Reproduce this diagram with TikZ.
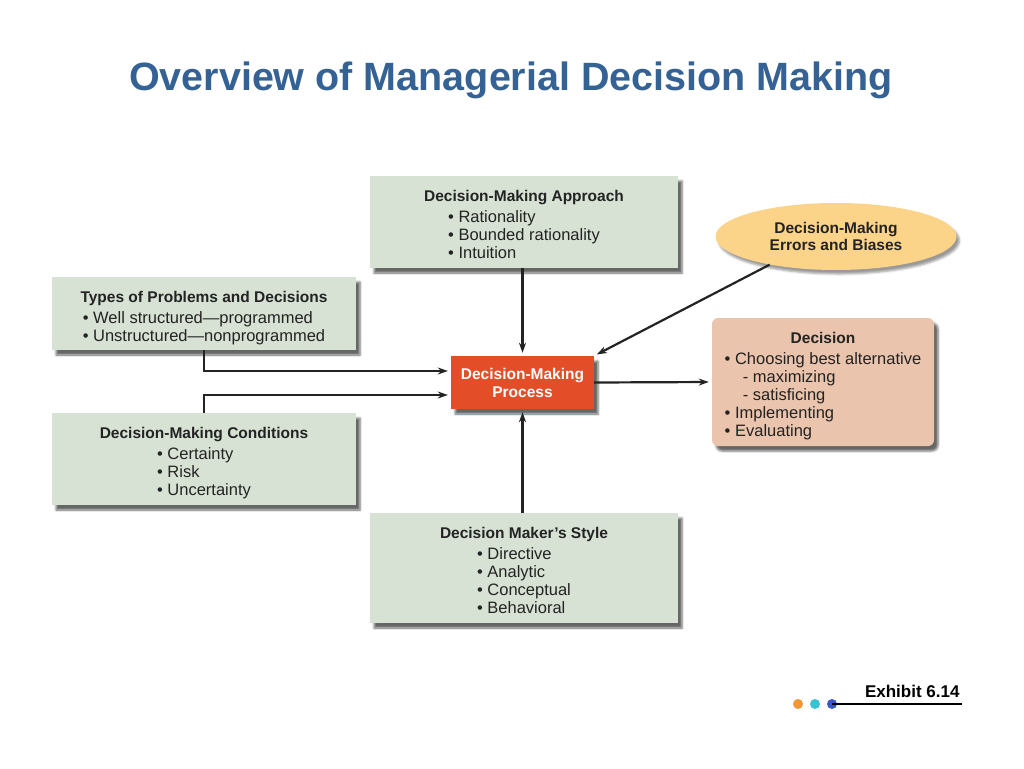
\documentclass[tikz,border=0pt]{standalone}
\usepackage{fontspec}
\setmainfont{Liberation Sans}
\usetikzlibrary{shapes.geometric,shadows.blur,arrows.meta}
\definecolor{titleblue}{RGB}{52,98,148}
\definecolor{boxgreen}{RGB}{215,226,212}
\definecolor{procred}{RGB}{227,78,40}
\definecolor{errgold}{RGB}{251,211,137}
\definecolor{decpeach}{RGB}{234,196,172}
\definecolor{inktext}{RGB}{35,35,35}
\definecolor{dotorange}{RGB}{245,150,55}
\definecolor{dotcyan}{RGB}{55,195,210}
\definecolor{dotblue}{RGB}{55,90,200}
\newcommand{\bul}{\textbullet\ }
\newcommand{\subdash}{\hspace{1.1em}- }
\newcommand{\boxhead}[1]{{\fontsize{15.5}{18}\selectfont\bfseries\rule{0pt}{22pt}#1}}
\begin{document}
\begin{tikzpicture}[x=1pt, y=-1pt,
    every node/.style = {font=\fontsize{16.5}{18}\selectfont, text=inktext},
    infobox/.style = {rectangle, fill=boxgreen, inner sep=0pt, align=center,
      blur shadow={shadow xshift=4pt, shadow yshift=-5pt, shadow opacity=60}},
    procbox/.style = {rectangle, fill=procred, inner sep=0pt, align=center,
      text=white, font=\fontsize{15.5}{18}\selectfont\bfseries,
      blur shadow={shadow xshift=4pt, shadow yshift=-5pt, shadow opacity=60}},
    errell/.style = {ellipse, fill=errgold, inner sep=0pt, align=center,
      font=\fontsize{15.5}{17}\selectfont\bfseries,
      blur shadow={shadow xshift=3pt, shadow yshift=-4pt, shadow opacity=40}},
    decbox/.style = {rectangle, rounded corners=6pt, fill=decpeach, inner sep=0pt, align=center,
      blur shadow={shadow xshift=4pt, shadow yshift=-5pt, shadow opacity=60}},
    dot/.style = {circle, inner sep=0pt, minimum size=10pt}]
  \useasboundingbox (0, 0) rectangle (1024, 768);
  %title
  \node[font=\fontsize{39.5}{44}\selectfont\bfseries, text=titleblue] (title) at (511, 80)
    {Overview of Managerial Decision Making};
  %nodes
  \node[infobox, minimum width=308pt, minimum height=92pt] (appr) at (524, 222)
    {\boxhead{Decision-Making Approach}\\[3pt]
     \begin{tabular}[t]{@{}l@{}}\bul Rationality\\ \bul Bounded rationality\\ \bul Intuition\end{tabular}};
  \node[infobox, minimum width=304pt, minimum height=73pt] (types) at (204, 313.5)
    {\boxhead{Types of Problems and Decisions}\\[3pt]
     \begin{tabular}[t]{@{}l@{}}\bul Well structured—programmed\\ \bul Unstructured—nonprogrammed\end{tabular}};
  \node[infobox, minimum width=304pt, minimum height=92pt] (cond) at (204, 459)
    {\boxhead{Decision-Making Conditions}\\[3pt]
     \begin{tabular}[t]{@{}l@{}}\bul Certainty\\ \bul Risk\\ \bul Uncertainty\end{tabular}};
  \node[infobox, minimum width=308pt, minimum height=110pt] (style) at (524, 568)
    {\boxhead{Decision Maker’s Style}\\[3pt]
     \begin{tabular}[t]{@{}l@{}}\bul Directive\\ \bul Analytic\\ \bul Conceptual\\ \bul Behavioral\end{tabular}};
  \node[procbox, minimum width=143pt, minimum height=53pt] (proc) at (522.5, 382.5)
    {Decision-Making\\Process};
  \node[errell, minimum width=241pt, minimum height=67pt] (err) at (836, 236.5)
    {Decision-Making\\Errors and Biases};
  \node[decbox, minimum width=222pt, minimum height=128pt] (dec) at (823, 382)
    {\boxhead{Decision}\\[3pt]
     \begin{tabular}[t]{@{}l@{}}\bul Choosing best alternative\\ \subdash maximizing\\ \subdash satisficing\\
       \bul Implementing\\ \bul Evaluating\end{tabular}};
  %edges
  \begin{scope}[line width=2.2pt, draw=inktext, shorten >=3pt, >={Stealth[length=10pt,width=7pt]}]
    \path [draw,->] (proc.north |- appr.south) to (proc.north);
    \path [draw,->] (proc.south |- style.north) to (proc.south);
    \path [draw,->] (types.south) |- ([yshift=11.5pt]proc.west);
    \path [draw,->] (cond.north) |- ([yshift=-12.5pt]proc.west);
    \path [draw,->] (err.203) to (proc.north east);
    \path [draw,->] (proc.east) to (dec.west);
  \end{scope}
  %exhibit
  \node[anchor=east, font=\fontsize{17}{20}\selectfont\bfseries, text=black] (exh) at (963, 691) {Exhibit 6.14};
  \node[dot, fill=dotorange] (dota) at (798, 704) {};
  \node[dot, fill=dotcyan] (dotb) at (815, 704) {};
  \node[dot, fill=dotblue] (dotc) at (832, 704) {};
  \coordinate (lineend) at (962, 704);
  \draw[line width=2.6pt] (dotc.center) -- (lineend);
\end{tikzpicture}
\end{document}
